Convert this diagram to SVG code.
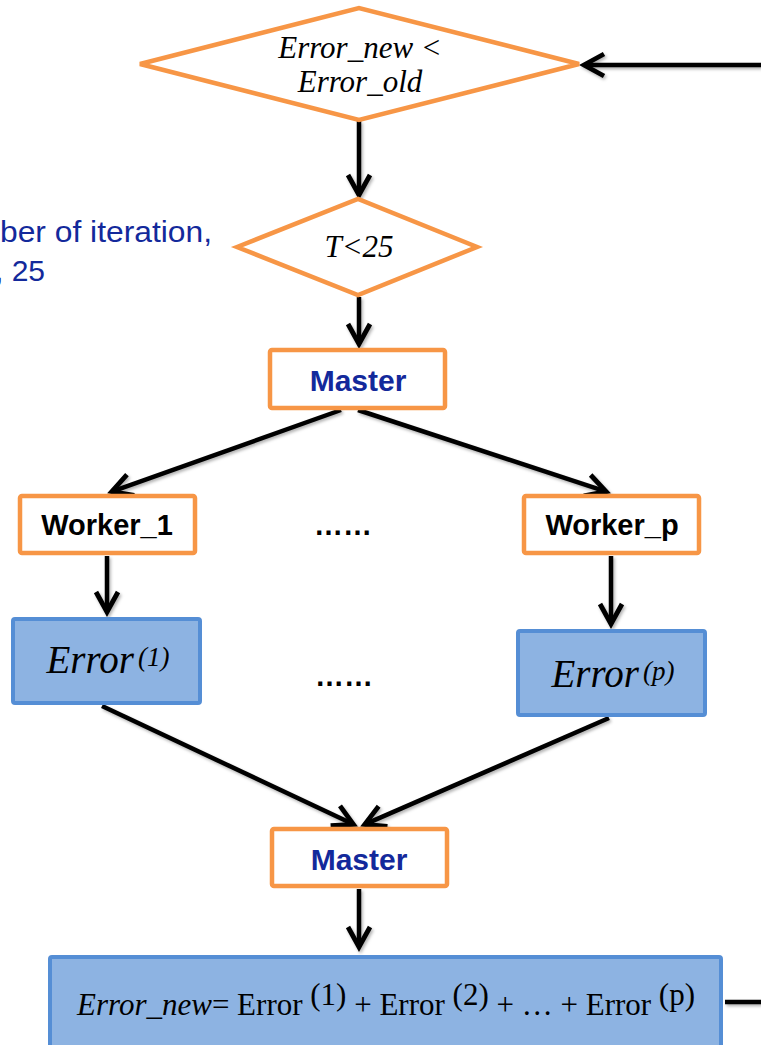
<svg xmlns="http://www.w3.org/2000/svg" width="761" height="1045" viewBox="0 0 761 1045">
  <style>
    .dec { fill: #ffffff; stroke: #F79646; stroke-width: 4.5; stroke-linejoin: miter; }
    .obox { fill: #ffffff; stroke: #F79646; stroke-width: 4.5; }
    .bbox { fill: #8DB3E2; stroke: #558ED5; stroke-width: 4; }
    .edge { fill: none; stroke: #000000; stroke-width: 4.5; stroke-linecap: butt; }
    .math { font-family: "Liberation Serif", "Times New Roman", serif; font-style: italic; fill: #000000; }
    .up { font-family: "Liberation Serif", "Times New Roman", serif; font-style: normal; }
    .bold { font-family: "Liberation Sans", Arial, sans-serif; font-weight: bold; font-size: 29px; }
    .blue { fill: #13299B; font-size: 30px; }
    .note { font-family: "Liberation Sans", Arial, sans-serif; font-size: 30px; fill: #13299B; }
  </style>
  <defs>
    <marker id="chev" markerUnits="userSpaceOnUse" markerWidth="40" markerHeight="40"
            viewBox="-30 -20 40 40" refX="0" refY="0" orient="auto" overflow="visible">
      <path d="M-20,-11 L0,0 L-20,11" fill="none" stroke="#000000" stroke-width="4.8" stroke-linejoin="miter"/>
    </marker>
    <filter id="soft" x="-10%" y="-10%" width="120%" height="120%">
      <feDropShadow dx="1.5" dy="2" stdDeviation="1.5" flood-color="#000000" flood-opacity="0.3"/>
    </filter>
  </defs>

  <!-- side note, running past the left edge -->
  <g id="note">
    <text class="note" x="0" y="242" textLength="212" lengthAdjust="spacingAndGlyphs">ber of iteration,</text>
    <text class="note" x="-5" y="281">, 25</text>
  </g>

  <!-- connectors -->
  <g id="connectors" filter="url(#soft)">
    <line class="edge" x1="761" y1="65" x2="584" y2="65" marker-end="url(#chev)"/>
    <line class="edge" x1="359" y1="121" x2="359" y2="195" marker-end="url(#chev)"/>
    <line class="edge" x1="359" y1="297" x2="359" y2="344" marker-end="url(#chev)"/>
    <line class="edge" x1="341" y1="410" x2="111.8" y2="491.7" marker-end="url(#chev)"/>
    <line class="edge" x1="358" y1="410" x2="606.2" y2="491.7" marker-end="url(#chev)"/>
    <line class="edge" x1="107" y1="556" x2="107" y2="612" marker-end="url(#chev)"/>
    <line class="edge" x1="611" y1="556" x2="611" y2="624" marker-end="url(#chev)"/>
    <line class="edge" x1="102" y1="706" x2="353.4" y2="824.3" marker-end="url(#chev)"/>
    <line class="edge" x1="609" y1="718" x2="364.7" y2="824.4" marker-end="url(#chev)"/>
    <line class="edge" x1="359" y1="889" x2="359" y2="947" marker-end="url(#chev)"/>
    <line class="edge" x1="725" y1="1002" x2="761" y2="1002"/>
  </g>

  <!-- loop test -->
  <g id="cond-error">
    <polygon class="dec" points="140,64 359,8 579,64 359,120"/>
    <text class="math" font-size="31" x="360" y="58" text-anchor="middle">Error_new &lt;</text>
    <text class="math" font-size="31" x="360" y="92" text-anchor="middle">Error_old</text>
  </g>

  <!-- iteration test -->
  <g id="cond-iter">
    <polygon class="dec" points="237,247 358,199 477,247 358,295"/>
    <text class="math" font-size="31" x="359" y="257" text-anchor="middle">T&lt;25</text>
  </g>

  <g id="master-1">
    <rect class="obox" x="270" y="350" width="175" height="58" rx="2"/>
    <text class="bold blue" x="358" y="391" text-anchor="middle">Master</text>
  </g>

  <g id="worker-1">
    <rect class="obox" x="20" y="496" width="175" height="57" rx="2"/>
    <text class="bold" x="107" y="535" text-anchor="middle">Worker_1</text>
  </g>

  <g id="workers-gap">
    <text class="bold" x="343" y="535" text-anchor="middle">……</text>
  </g>

  <g id="worker-p">
    <rect class="obox" x="524" y="496" width="175" height="57" rx="2"/>
    <text class="bold" x="612" y="535" text-anchor="middle">Worker_p</text>
  </g>

  <g id="error-1">
    <rect class="bbox" x="13" y="619" width="187" height="84" rx="2"/>
    <text class="math" x="108" y="673" text-anchor="middle"><tspan font-size="39">Error</tspan><tspan font-size="27" dx="4" dy="-7">(1)</tspan></text>
  </g>

  <g id="errors-gap">
    <text class="bold" x="344" y="686" text-anchor="middle">……</text>
  </g>

  <g id="error-p">
    <rect class="bbox" x="518" y="631" width="187" height="84" rx="2"/>
    <text class="math" x="613" y="687" text-anchor="middle"><tspan font-size="39">Error</tspan><tspan font-size="27" dx="4" dy="-7">(p)</tspan></text>
  </g>

  <g id="master-2">
    <rect class="obox" x="272" y="829" width="175" height="57" rx="2"/>
    <text class="bold blue" x="359" y="870" text-anchor="middle">Master</text>
  </g>

  <g id="error-sum">
    <rect class="bbox" x="50" y="957" width="671" height="100" rx="2"/>
    <text class="math" font-size="31" x="386" y="1015" text-anchor="middle">Error_new<tspan class="up">= Error </tspan><tspan class="up" dy="-10">(1)</tspan><tspan class="up" dy="10"> + Error </tspan><tspan class="up" dy="-10">(2)</tspan><tspan class="up" dy="10"> + … + Error </tspan><tspan class="up" dy="-10">(p)</tspan></text>
  </g>
</svg>
